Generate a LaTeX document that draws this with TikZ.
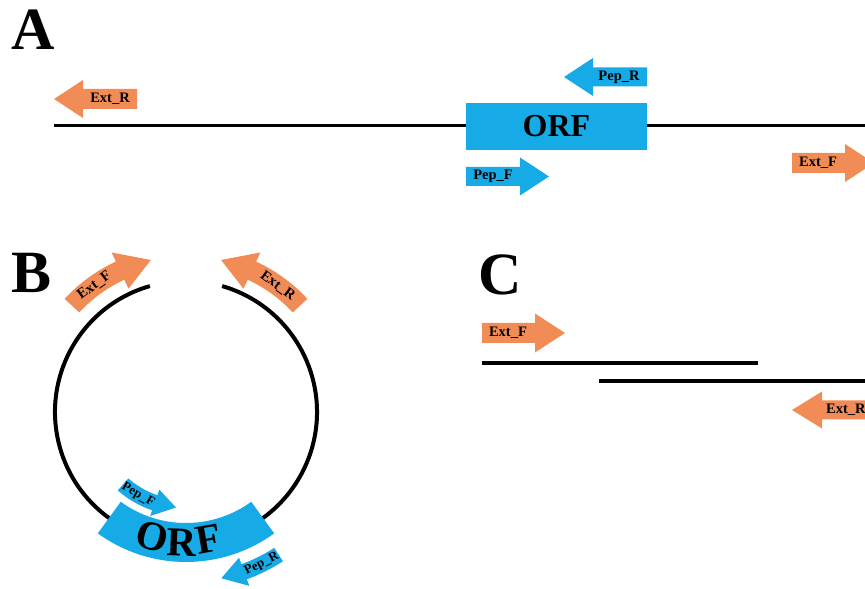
\documentclass[tikz,border=0pt]{standalone}
\usepackage{fontspec}
\setmainfont{Liberation Serif}

\definecolor{orfblue}{RGB}{22,170,230}
\definecolor{primerorange}{RGB}{242,140,86}

% straight primer arrow: tail x, head-back x, tip x, centre y, body half width, head half width, colour
\newcommand{\straightprimer}[7]{%
  \fill[#7] ({#1},{#4-#5}) -- ({#2},{#4-#5}) -- ({#2},{#4-#6}) -- ({#3},{#4})
    -- ({#2},{#4+#6}) -- ({#2},{#4+#5}) -- ({#1},{#4+#5}) -- cycle;}

% curved primer arrow round the origin: radius, tail angle, head-back angle, tip angle,
% body half width, head half width, colour
\newcommand{\curvedprimer}[7]{%
  \fill[#7] ({#2}:{#1+#5}) arc[start angle={#2}, end angle={#3}, radius={#1+#5}]
    -- ({#3}:{#1+#6}) -- ({#4}:{#1}) -- ({#3}:{#1-#6}) -- ({#3}:{#1-#5})
    arc[start angle={#3}, end angle={#2}, radius={#1-#5}] -- cycle;}

\tikzset{
  panel/.style={font=\fontsize{60}{60}\selectfont\bfseries, inner sep=0, anchor=base west},
  primertext/.style={font=\fontsize{14.5}{16}\selectfont\bfseries, inner sep=0},
  smallprimertext/.style={font=\fontsize{13}{15}\selectfont\bfseries, inner sep=0},
  dna/.style={line width=3.5},
  orftext/.style={font=\fontsize{32}{33}\selectfont\bfseries, inner sep=0},
  orfletter/.style={font=\fontsize{41}{42}\selectfont\bfseries, inner sep=0},
}

\begin{document}
\begin{tikzpicture}[x=1pt, y=1pt]
\useasboundingbox (0,0) rectangle (865,589);
\begin{scope}
\clip (0,0) rectangle (865,589);

% ---------------- A: linear template ----------------
\node[panel] (labA) at (11,539) {A};
\coordinate (lineAstart) at (54,463.5);
\coordinate (lineAend) at (865,463.5);
\draw[dna] (lineAstart) -- (lineAend);
\node[fill=orfblue, minimum width=181, minimum height=47, inner sep=0, orftext] (orfA) at (556.5,462.5) {ORF};

\straightprimer{137}{83}{54}{490}{10}{19}{primerorange}
\node[primertext] (extRA) at (110,490) {Ext\_R};
\straightprimer{647}{593}{564}{512}{9.5}{19}{orfblue}
\node[primertext] (pepRA) at (619,512) {Pep\_R};
\straightprimer{466}{520}{549}{412.5}{9.5}{19}{orfblue}
\node[primertext] (pepFA) at (493,412.5) {Pep\_F};
\straightprimer{792}{845}{874}{426}{10}{19}{primerorange}
\node[primertext] (extFA) at (818,426) {Ext\_F};

% ---------------- B: circular template ----------------
\node[panel] (labB) at (11,296) {B};
\begin{scope}[shift={(186,177)}]
  \draw[line width=4] (106:131) arc[start angle=106, end angle=434, radius=131];
  % ORF block on the circle, lettered along the arc
  \fill[orfblue] (234:150) arc[start angle=234, end angle=306, radius=150]
    -- (306:111) arc[start angle=306, end angle=234, radius=111] -- cycle;
  \node[orfletter, rotate=-15] (orfB1) at (255:129) {O};
  \node[orfletter, rotate=-2]  (orfB2) at (268:131) {R};
  \node[orfletter, rotate=10]  (orfB3) at (280:129) {F};
  % primers
  \curvedprimer{156}{137}{115}{103}{10}{20}{primerorange}
  \node[primertext, rotate=36] (extFB) at (126:156) {Ext\_F};
  \curvedprimer{156}{43}{65}{77}{10}{20}{primerorange}
  \node[primertext, rotate=-36] (extRB) at (54:156) {Ext\_R};
  \curvedprimer{96}{229}{251}{264}{8}{14}{orfblue}
  \node[smallprimertext, rotate=-30] (pepFB) at (240:96) {Pep\_F};
  \curvedprimer{170}{303}{290}{282}{8}{15}{orfblue}
  \node[smallprimertext, rotate=26.5] (pepRB) at (296.5:170) {Pep\_R};
\end{scope}

% ---------------- C: overlapping products ----------------
\node[panel] (labC) at (478,294) {C};
\straightprimer{482}{535}{565}{256}{10}{19.5}{primerorange}
\node[primertext] (extFC) at (508,256) {Ext\_F};
\coordinate (topstart) at (482,226);
\coordinate (topend) at (758,226);
\draw[line width=4] (topstart) -- (topend);
\coordinate (botstart) at (599,208);
\coordinate (botend) at (865,208);
\draw[line width=4] (botstart) -- (botend);
\straightprimer{880}{822}{792}{179}{9.5}{18.5}{primerorange}
\node[primertext, anchor=west] (extRC) at (826,179) {Ext\_R};
\end{scope}
\end{tikzpicture}
\end{document}
